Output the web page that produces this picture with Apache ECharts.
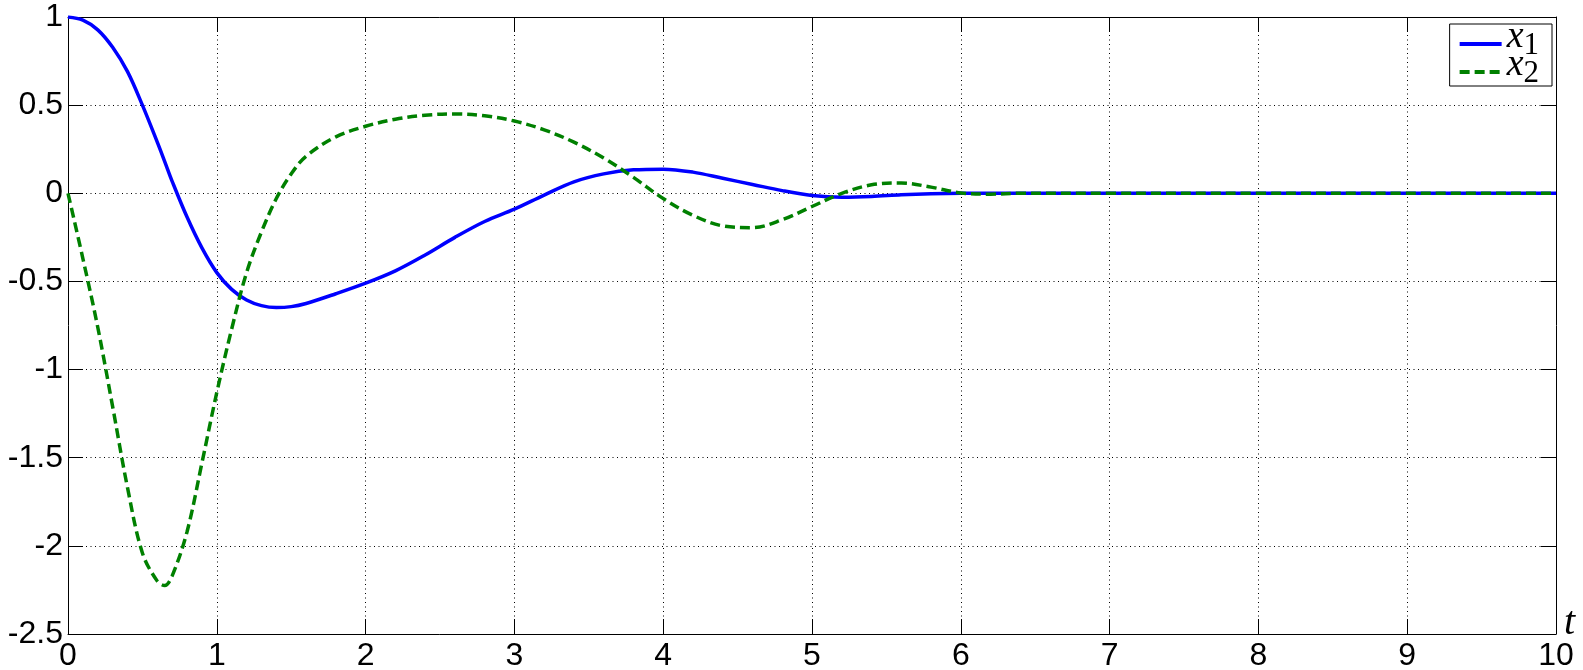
<!DOCTYPE html>
<html>
<head>
<meta charset="utf-8">
<script src="https://cdn.jsdelivr.net/npm/echarts@6/dist/echarts.min.js"></script>
<style>
  html, body { margin: 0; padding: 0; background: #fff; }
  #main { width: 1583px; height: 670px; }
</style>
</head>
<body>
<div id="main"></div>
<script>
// time samples
var times = [0, 0.1, 0.2, 0.3, 0.4, 0.5, 0.6, 0.65, 0.7, 0.8, 0.9, 1.0, 1.1, 1.2, 1.3, 1.4, 1.5, 1.6, 1.8,
  2.0, 2.2, 2.4, 2.6, 2.8, 3.0, 3.2, 3.4, 3.6, 3.8, 4.0, 4.2, 4.4, 4.6, 4.8, 5.0, 5.2, 5.4, 5.6, 5.8,
  6.0, 6.2, 6.4, 7, 8, 9, 10];
// x1 (solid blue)
var x1Values = [1.0, 0.982, 0.927, 0.828, 0.69, 0.5, 0.29, 0.18, 0.068, -0.135, -0.31, -0.45, -0.545, -0.605, -0.637, -0.648, -0.643, -0.625, -0.57,
  -0.51, -0.44, -0.35, -0.25, -0.16, -0.09, -0.01, 0.065, 0.11, 0.133, 0.137, 0.12, 0.085, 0.05, 0.015, -0.012, -0.022, -0.018, -0.008, -0.002,
  0, 0, 0, 0, 0, 0, 0];
// x2 (dashed green)
var x2Values = [0, -0.37, -0.76, -1.21, -1.67, -2.04, -2.2, -2.225, -2.17, -1.92, -1.53, -1.13, -0.77, -0.45, -0.22, -0.03, 0.11, 0.21, 0.32,
  0.38, 0.42, 0.443, 0.45, 0.44, 0.41, 0.36, 0.29, 0.2, 0.09, -0.03, -0.125, -0.185, -0.195, -0.15, -0.075, 0.0, 0.048, 0.058, 0.035,
  0.002, -0.005, 0, 0, 0, 0, 0];
var xTicks = [0, 1, 2, 3, 4, 5, 6, 7, 8, 9, 10];
var yTicks = ['-2.5', '-2', '-1.5', '-1', '-0.5', '0', '0.5', '1'];

function pairs(ys) {
  return times.map(function (t, i) { return [t, ys[i]]; });
}

var labelFont = { color: '#000', fontSize: 32, fontFamily: 'Liberation Sans, Arial, sans-serif' };
var dotted = { color: '#000', width: 1, type: [1, 3.5] };
var tickStyle = { show: true, inside: true, length: 15, lineStyle: { color: '#000', width: 1 } };
var frameLine = { show: true, onZero: false, lineStyle: { color: '#000', width: 1 } };
var serif = 'Liberation Serif, DejaVu Serif, serif';

var chart = echarts.init(document.getElementById('main'));
chart.setOption({
  animation: false,
  backgroundColor: '#fff',
  grid: { left: 68, right: 27, top: 17, bottom: 36, containLabel: false, outerBoundsMode: 'none' },
  legend: {
    orient: 'vertical',
    right: 31,
    top: 24,
    padding: [-6, 13, -3, 8],
    itemGap: -15,
    itemWidth: 42,
    itemHeight: 14,
    borderColor: '#000',
    borderWidth: 1,
    borderRadius: 0,
    backgroundColor: '#fff',
    itemStyle: { opacity: 0 },
    lineStyle: { width: 4 },
    data: ['x1', 'x2'],
    formatter: function (name) {
      return '{v|x}{s|' + name.slice(1) + '}';
    },
    textStyle: {
      padding: [0, 0, 0, 0],
      rich: {
        v: { fontFamily: serif, fontStyle: 'italic', fontSize: 38, height: 13, lineHeight: 27, padding: [0, 0, 14, 0], verticalAlign: 'top', color: '#000' },
        s: { fontFamily: serif, fontSize: 31, height: 10, lineHeight: 27, padding: [10, 0, 7, 0], verticalAlign: 'top', color: '#000' }
      }
    }
  },
  xAxis: [{
    type: 'value', min: 0, max: 10, interval: 1, position: 'bottom',
    name: 't', nameLocation: 'end', nameGap: 8, nameMoveOverlap: false,
    nameTextStyle: { fontFamily: serif, fontStyle: 'italic', fontSize: 40, color: '#000', verticalAlign: 'bottom', align: 'left', padding: [0, 0, -9, 0] },
    axisLine: frameLine,
    axisTick: tickStyle,
    axisLabel: Object.assign({ margin: 6, formatter: function (v) { return xTicks.indexOf(v) >= 0 ? String(v) : ''; } }, labelFont),
    splitLine: { show: true, lineStyle: dotted }
  }, {
    type: 'value', min: 0, max: 10, interval: 1, position: 'top',
    axisLine: frameLine,
    axisTick: tickStyle,
    axisLabel: { show: false },
    splitLine: { show: false }
  }],
  yAxis: [{
    type: 'value', min: -2.5, max: 1, interval: 0.5, position: 'left',
    axisLine: frameLine,
    axisTick: tickStyle,
    axisLabel: Object.assign({ margin: 5, formatter: function (v) { return yTicks[Math.round((v + 2.5) / 0.5)]; } }, labelFont),
    splitLine: { show: true, lineStyle: dotted }
  }, {
    type: 'value', min: -2.5, max: 1, interval: 0.5, position: 'right',
    axisLine: frameLine,
    axisTick: tickStyle,
    axisLabel: { show: false },
    splitLine: { show: false }
  }],
  series: [{
    name: 'x1', type: 'line', xAxisIndex: 0, yAxisIndex: 0,
    data: pairs(x1Values), smooth: 0.35, symbol: 'none', showSymbol: false,
    lineStyle: { color: '#0000ff', width: 3.5 }, itemStyle: { color: '#0000ff' }, z: 3
  }, {
    name: 'x2', type: 'line', xAxisIndex: 0, yAxisIndex: 0,
    data: pairs(x2Values), smooth: 0.35, symbol: 'none', showSymbol: false,
    lineStyle: { color: '#008000', width: 3.5, type: [10, 5] }, itemStyle: { color: '#008000' }, z: 4
  }]
});
</script>
</body>
</html>
